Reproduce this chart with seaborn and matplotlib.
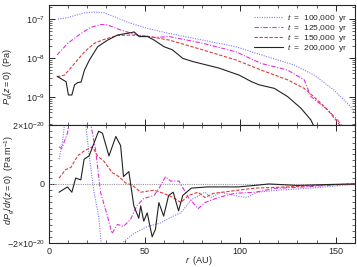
import numpy as np
import pandas as pd
import matplotlib
matplotlib.use('Agg')
import matplotlib.pyplot as plt
import matplotlib.ticker as mticker
import seaborn as sns

# top panel: log10 of P_g(z=0) in Pa
r_p100 = [4.7, 9.9, 18.6, 23.8, 29, 34.2, 42.8, 51.6, 63, 80.4, 97.8, 111, 128.3, 138.7, 149, 157.8, 159.4]
p100 = [-7.0, -6.96, -6.84, -6.82, -6.84, -6.94, -7.11, -7.24, -7.37, -7.54, -7.71, -7.92, -8.18, -8.44, -8.82, -9.25, -9.38]

r_p125 = [4.3, 9.9, 16.8, 22, 27.2, 30.7, 37.5, 46.4, 55, 63, 80.4, 97.8, 111, 124.8, 133.5, 137, 145.7, 150.9, 155]
p125 = [-7.92, -7.62, -7.37, -7.21, -7.14, -7.15, -7.28, -7.41, -7.47, -7.45, -7.62, -7.84, -8.14, -8.31, -8.56, -8.99, -9.33, -9.59, -9.85]

r_p150 = [4.3, 8.2, 13.4, 18.6, 23.8, 29, 35.9, 42.8, 51.6, 63, 80.4, 97.8, 111, 124.8, 133.5, 140.5, 145.7, 150, 154]
p150 = [-8.48, -8.44, -8.14, -7.84, -7.62, -7.52, -7.42, -7.41, -7.44, -7.54, -7.79, -8.05, -8.31, -8.56, -8.78, -9.08, -9.33, -9.59, -9.85]

r_p200 = [4.3, 7.3, 9, 10.2, 12, 13.4, 15.1, 16.8, 18.6, 21.2, 25.5, 30.7, 35.9, 42.8, 44.6, 47.2, 51.6, 55,
          60.2, 64.6, 70, 75.2, 89, 99.5, 106, 110, 117.9, 124.8, 131.8, 137, 140]
p200 = [-8.47, -8.56, -8.61, -8.95, -8.95, -8.69, -8.63, -8.62, -8.31, -8.05, -7.71, -7.54, -7.41, -7.35, -7.33,
        -7.45, -7.45, -7.54, -7.71, -7.79, -8.01, -8.09, -8.26, -8.44, -8.61, -8.69, -8.78, -8.99, -9.29, -9.59, -9.9]

# bottom panel: dP_g/dr(z=0) in units of 1e-20 Pa/m
r_d100 = [5.3, 7, 9, 11, 14, 17, 19.3, 21, 23.6, 26, 27, 29, 33, 37, 39, 44.4, 51.5, 58, 65, 69, 74.5, 81.6,
          85, 90, 97, 103.5, 109, 120, 137, 155, 160]
d100 = [0.84, 1.37, 2.5, 4.5, 5.0, 3.5, 2.0, 1.0, -0.28, -1.09, -1.79, -3.0, -3.5, -2.5, -1.96, -1.68, -1.44,
        -1.33, -1.09, -0.98, -0.53, -0.28, -0.46, -0.28, -0.39, -0.46, -0.28, -0.21, -0.14, -0.04, -0.02]

r_d125 = [5.3, 6.7, 9.7, 11.5, 14, 18, 22, 24.5, 27, 30.6, 33, 35.8, 39, 42.7, 46, 49.6, 55, 58, 61, 63.5, 68,
          73, 78, 81.6, 88.5, 97, 108, 118, 134, 150, 160]
d125 = [1.26, 1.2, 1.72, 2.5, 3.5, 3.0, 2.0, 1.12, -0.28, -1.09, -1.68, -1.37, -1.44, -1.2, -0.74, -0.49, -0.39,
        -0.1, 0.25, 0.1, 0.1, -0.46, -0.84, -0.63, -0.46, -0.32, -0.28, -0.15, -0.1, -0.03, 0.0]

r_d150 = [5.3, 8.8, 11.5, 15, 18.4, 22.8, 25.4, 28.8, 33, 36.6, 40, 43.6, 48, 55, 60, 65, 69, 73, 78, 81.6, 86,
          99, 108, 125, 145, 160]
d150 = [0.2, 0.49, 0.56, 0.95, 1.12, 1.26, 0.95, 0.77, 0.39, 0.25, 0.04, -0.04, -0.28, -0.21, -0.32, -0.46, -0.63,
        -0.39, -0.28, -0.46, -0.32, -0.21, -0.14, -0.1, -0.03, 0.0]

r_d200 = [5.3, 9.7, 12, 14, 16.7, 18.4, 21, 24.5, 26, 28, 31.4, 35, 37.5, 39, 41.8, 44.4, 47, 48, 49.6, 51.4, 54,
          55.7, 57.5, 60, 62.6, 65, 67.8, 70, 74.5, 83, 99, 109, 115, 130, 145, 160]
d200 = [-0.28, -0.1, -0.28, 0.2, 0.14, 0.84, 0.95, 1.54, 1.79, 1.72, 0.95, 1.61, 1.3, 0.25, 0.42, -0.74, -1.16,
        -0.74, -1.26, -0.98, -1.79, -1.54, -0.63, -1.09, -0.39, -0.28, -0.91, -0.39, -0.14, -0.1, -0.1, -0.04, 0.0,
        -0.05, -0.02, 0.0]

labels = ['$t$  =  100,000  yr', '$t$  =  125,000  yr', '$t$  =  150,000  yr', '$t$  =  200,000  yr']
colors = ['#7b7bff', '#e030e0', '#e03a3a', '#222222']
styles = [(0, (1, 1.2)), (0, (4, 1.5, 1, 1.5)), (0, (3, 1.5)), '-']

sns.set_style('ticks')
plt.rcParams['font.family'] = ['Liberation Sans', 'DejaVu Sans']
plt.rcParams['mathtext.fontset'] = 'custom'
plt.rcParams['mathtext.rm'] = 'Liberation Sans'
plt.rcParams['mathtext.it'] = 'Liberation Sans:italic'
plt.rcParams['mathtext.bf'] = 'Liberation Sans:bold'

fig = plt.figure(figsize=(3.57, 2.67), dpi=100)
ax1 = fig.add_axes([0.137, 0.532, 0.857, 0.449])
ax2 = fig.add_axes([0.137, 0.09, 0.857, 0.442], sharex=ax1)

top = [(r_p100, p100), (r_p125, p125), (r_p150, p150), (r_p200, p200)]
bot = [(r_d100, d100), (r_d125, d125), (r_d150, d150), (r_d200, d200)]

for (r, p), lab, c, ls in zip(top, labels, colors, styles):
    sns.lineplot(x=r, y=10.0 ** np.array(p), ax=ax1, color=c, linestyle=ls, lw=0.8,
                 label=lab, sort=False, estimator=None)

ax2.axhline(0, color='#999999', lw=0.8, linestyle=(0, (1, 1)))
for (r, d), c, ls in zip(bot, colors, styles):
    sns.lineplot(x=r, y=np.array(d) * 1e-20, ax=ax2, color=c, linestyle=ls, lw=0.8,
                 sort=False, estimator=None)

ax1.set_yscale('log')
ax1.set_ylim(10 ** -9.72, 10 ** -6.64)
ax1.set_xlim(0, 160)
ax2.set_ylim(-2e-20, 2e-20)

ax1.yaxis.set_major_locator(mticker.FixedLocator([1e-9, 1e-8, 1e-7]))
ax1.yaxis.set_major_formatter(mticker.FixedFormatter(['$10^{-9}$', '$10^{-8}$', '$10^{-7}$']))
ax1.yaxis.set_minor_locator(mticker.LogLocator(base=10, subs=np.arange(2, 10), numticks=20))
ax1.yaxis.set_minor_formatter(mticker.NullFormatter())

ax2.yaxis.set_major_locator(mticker.FixedLocator([-2e-20, 0, 2e-20]))
ax2.yaxis.set_major_formatter(mticker.FixedFormatter([r'$-2{\times}10^{-20}$', '0', r'$2{\times}10^{-20}$']))
ax2.yaxis.set_minor_locator(mticker.MultipleLocator(0.2e-20))
ax2.xaxis.set_major_locator(mticker.MultipleLocator(50))
ax2.xaxis.set_minor_locator(mticker.MultipleLocator(10))

for ax in (ax1, ax2):
    ax.tick_params(which='both', direction='in', top=True, right=True, labelsize=6.5, pad=3)
    ax.tick_params(which='major', length=4, width=0.7)
    ax.tick_params(which='minor', length=2, width=0.5)
    for s in ax.spines.values():
        s.set_linewidth(0.8)
ax1.tick_params(labelbottom=False)

ax1.set_ylabel('$P_g(z{=}0)$  (Pa)', fontsize=6.5)
ax2.set_ylabel('$dP_g/dr(z{=}0)$  (Pa m$^{-1}$)', fontsize=6.5)
ax1.yaxis.set_label_coords(-0.11, 0.4)
ax2.yaxis.set_label_coords(-0.108, 0.53)
ax2.set_xlabel('$r$  (AU)', fontsize=6.5)
ax2.xaxis.set_label_coords(0.49, -0.095)
ax1.set_xlabel('')

ax1.legend(loc='upper right', frameon=False, fontsize=6, handlelength=3.4,
           handletextpad=0.5, labelspacing=-0.1, borderaxespad=0.5)

fig.savefig('out.png', dpi=100)
